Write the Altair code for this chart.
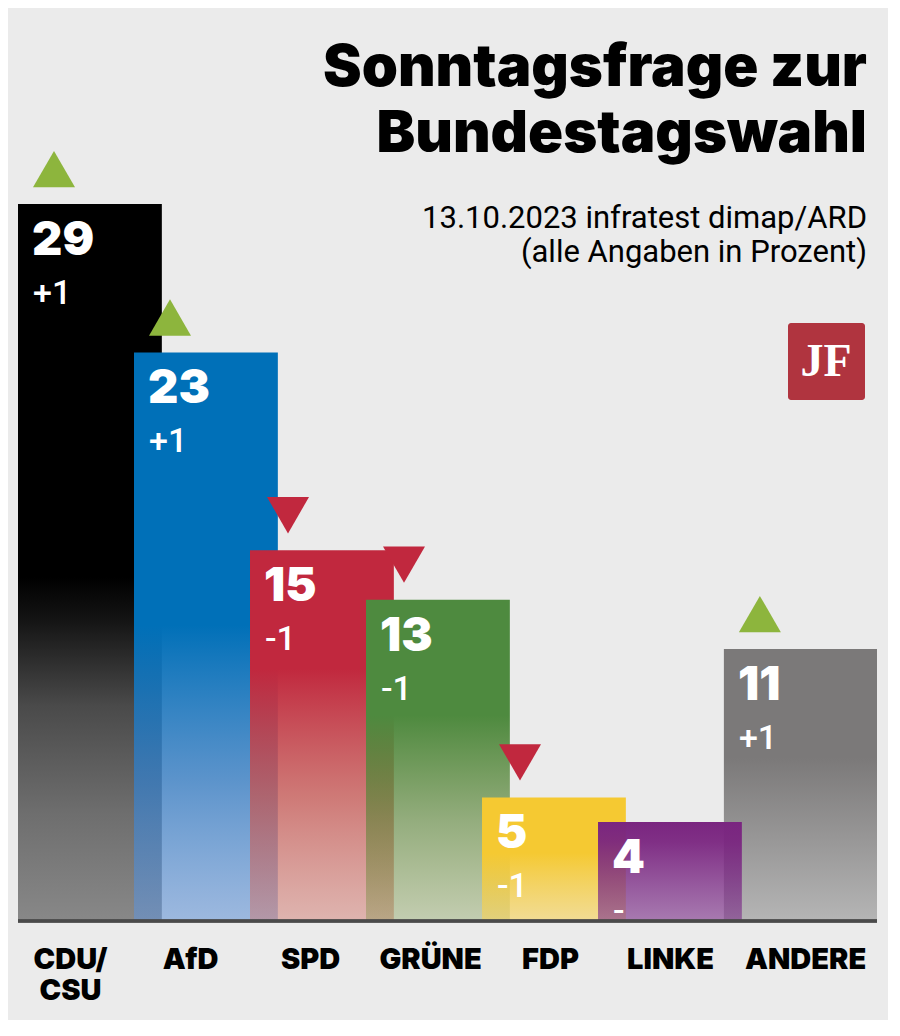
import altair as alt
import pandas as pd

# ---- data ----
parties = ["CDU/CSU", "AfD", "SPD", "GRÜNE", "FDP", "LINKE", "ANDERE"]
values = [29, 23, 15, 13, 5, 4, 11]
changes = [1, 1, -1, -1, -1, 0, 1]

title_text = "Sonntagsfrage zur\nBundestagswahl"
subtitle_text = "13.10.2023 infratest dimap/ARD\n(alle Angaben in Prozent)"
logo_text = "JF"

# ---- layout / style ----
PLOT_W, PLOT_H = 859, 913
PX_PER_UNIT = 24.72
Y_MAX = PLOT_H / PX_PER_UNIT
HALF = 0.62
OTHERS_GAP = 0.125
OTHERS_HALF = 0.66
LABEL_SPREAD = 1.0345
LABEL_SHIFT = -0.167
BG = "#ebebeb"
GREEN = "#8db53d"
RED = "#c1283e"
HEAVY = "Inter"
LIGHT = "Roboto"


def grad(stops):
    return alt.Gradient(
        gradient="linear", x1=0, x2=0, y1=0, y2=1,
        stops=[alt.GradientStop(offset=o, color=c) for o, c in stops],
    )


gradients = {
    "CDU/CSU": grad([(0, "#000000"), (0.52, "#000000"), (0.58, "#141414"),
                     (0.7, "#4a4a4a"), (0.85, "#6e6e6e"), (1, "#888888")]),
    "AfD": grad([(0, "rgba(0,112,184,1)"), (0.48, "rgba(0,112,184,1)"),
                 (0.75, "rgba(55,125,195,0.8)"), (1, "rgba(100,148,214,0.58)")]),
    "SPD": grad([(0, "rgba(193,40,62,1)"), (0.32, "rgba(193,40,62,1)"),
                 (0.67, "rgba(197,85,81,0.75)"), (1, "rgba(207,113,102,0.45)")]),
    "GRÜNE": grad([(0, "rgba(78,138,63,1)"), (0.36, "rgba(78,138,63,1)"),
                   (0.69, "rgba(90,132,53,0.6)"), (1, "rgba(102,135,42,0.3)")]),
    "FDP": grad([(0, "rgba(245,201,50,1)"), (0.45, "rgba(245,201,50,1)"),
                 (1, "rgba(245,210,90,0.6)")]),
    "LINKE": grad([(0, "rgba(122,37,128,1)"), (0.2, "rgba(122,37,128,0.95)"),
                   (1, "rgba(123,47,137,0.6)")]),
    "ANDERE": grad([(0, "#7b7979"), (0.4, "#7b7979"), (1, "#b5b5b5")]),
}
draw_order = ["CDU/CSU", "AfD", "SPD", "GRÜNE", "FDP", "ANDERE", "LINKE"]

# ---- table built from the lists ----
rows = []
n = len(parties)
for i, (p, v, c) in enumerate(zip(parties, values, changes)):
    last = i == n - 1
    center = i + (OTHERS_GAP if last else 0)
    half = OTHERS_HALF if last else HALF
    rows.append({
        "party": p, "value": v, "change": c,
        "center": center, "x0": center - half, "x1": center + half,
        "label_x": center * LABEL_SPREAD + LABEL_SHIFT,
        "chg_label": ("+%d" % c) if c > 0 else (("%d" % c) if c < 0 else "-"),
        "name": p.replace("/", "/\n"),
    })
df = pd.DataFrame(rows)

xs = alt.Scale(domain=[-HALF, n - 1 + OTHERS_GAP + OTHERS_HALF], nice=False, zero=False)
ys = alt.Scale(domain=[0, Y_MAX], nice=False, zero=True)

base = alt.Chart(df)

bars = [
    base.transform_filter(alt.datum.party == p)
    .mark_bar(color=gradients[p], cornerRadius=0)
    .encode(x=alt.X("x0:Q", scale=xs, axis=None), x2="x1:Q",
            y=alt.Y("value:Q", scale=ys, axis=None), y2=alt.datum(0))
    for p in draw_order
]

value_txt = base.mark_text(align="left", baseline="alphabetic", dx=14, dy=51,
                           font=HEAVY, fontWeight=900, fontSize=47, color="white").encode(
    x="x0:Q", y="value:Q", text="value:Q")
change_txt = base.mark_text(align="left", baseline="alphabetic", dx=15, dy=100,
                            font=LIGHT, fontWeight=500, fontSize=34, color="white").encode(
    x="x0:Q", y="value:Q", text="chg_label:N")

tri_up = base.transform_filter(alt.datum.change > 0).mark_point(
    shape="triangle-up", filled=True, size=1764, color=GREEN, opacity=1,
    xOffset=36, yOffset=-35).encode(x="x0:Q", y="value:Q")
tri_down = base.transform_filter(alt.datum.change < 0).mark_point(
    shape="triangle-down", filled=True, size=1764, color=RED, opacity=1,
    xOffset=38, yOffset=-35).encode(x="x0:Q", y="value:Q")

axis_line = base.mark_rule(color="#4a4a4a", strokeWidth=2.5).encode(
    x=alt.value(0), x2=alt.value(PLOT_W), y=alt.datum(0))

names = base.mark_text(align="center", baseline="alphabetic", dy=48,
                       lineBreak="\n", lineHeight=31,
                       font=HEAVY, fontWeight=900, fontSize=29, color="black").encode(
    x="label_x:Q", y=alt.datum(0), text="name:N")

one = alt.Chart(pd.DataFrame({"t": [title_text], "s": [subtitle_text], "l": [logo_text]}))
title = one.mark_text(align="right", baseline="alphabetic", lineBreak="\n", lineHeight=66,
                      font=HEAVY, fontWeight=900, fontSize=58, color="black").encode(
    x=alt.value(849), y=alt.value(78), text="t:N")
subtitle = one.mark_text(align="right", baseline="alphabetic", lineBreak="\n", lineHeight=34,
                         font=LIGHT, fontSize=31, color="black").encode(
    x=alt.value(849), y=alt.value(220), text="s:N")
logo_box = one.mark_rect(color="#b0343f", cornerRadius=3).encode(
    x=alt.value(770), x2=alt.value(847), y=alt.value(315), y2=alt.value(392))
logo_txt = one.mark_text(align="center", baseline="alphabetic", font="Liberation Serif",
                         fontWeight="bold", fontSize=46, color="white").encode(
    x=alt.value(808), y=alt.value(368), text="l:N")

chart = alt.layer(*bars, tri_up, tri_down, axis_line, value_txt, change_txt, names,
                  title, subtitle, logo_box, logo_txt).properties(
    width=PLOT_W, height=PLOT_H,
    autosize=alt.AutoSizeParams(type="none"),
    padding={"left": 10, "top": 0, "right": 11, "bottom": 99},
    background=BG,
).configure_view(stroke=None)

chart.save("out.html", embed_options={"renderer": "svg", "actions": False})
